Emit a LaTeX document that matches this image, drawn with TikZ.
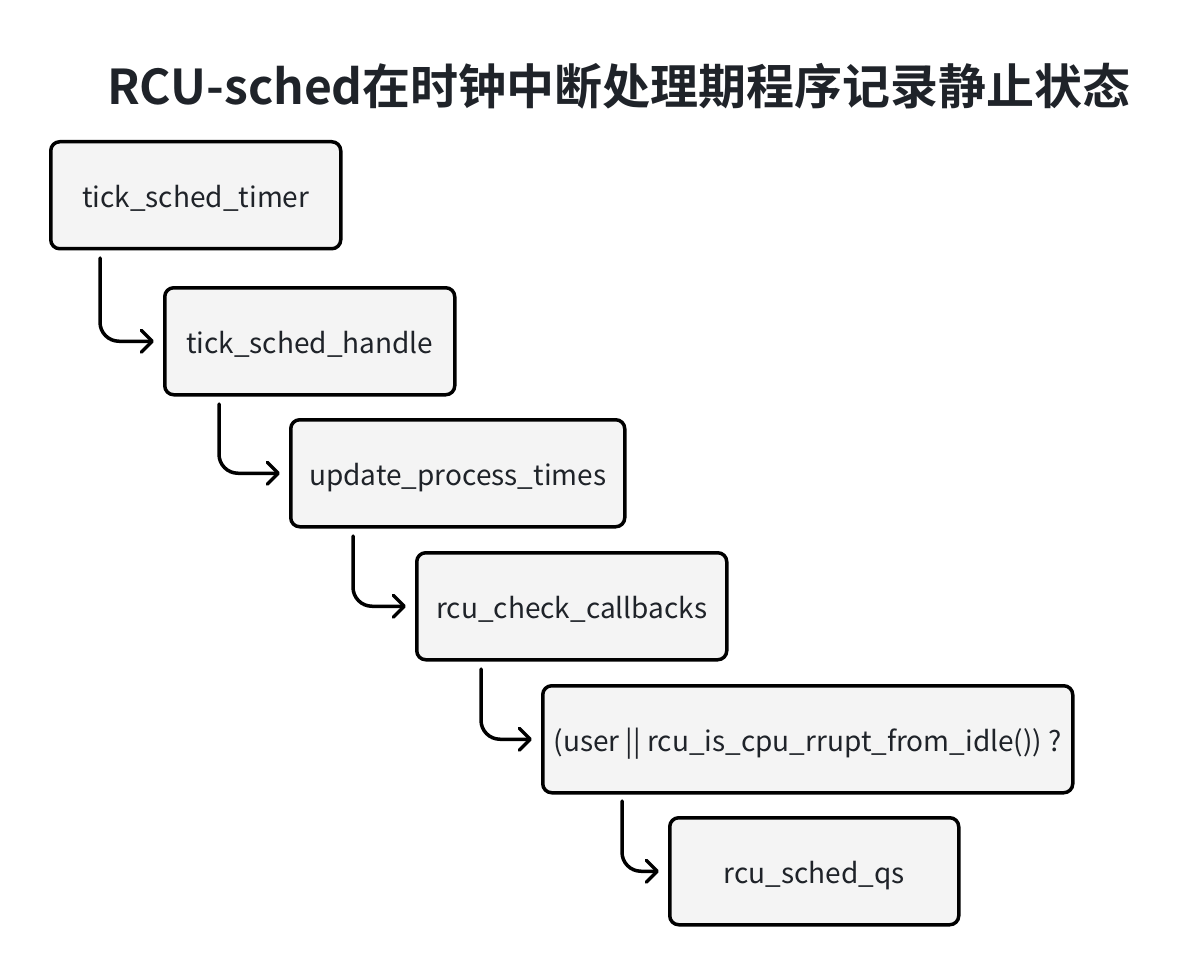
\documentclass[tikz,border=0pt]{standalone}
\usepackage{fontspec}
\setmainfont{Noto Sans CJK SC}[BoldFont={Noto Sans CJK SC Bold}]
\usetikzlibrary{arrows.meta}
\definecolor{boxfill}{HTML}{F4F4F4}
\definecolor{txt}{HTML}{1F2329}
\tikzset{
  fbox/.style={draw=black, line width=3.5pt, fill=boxfill, rounded corners=9pt,
    minimum height=107pt, inner sep=0pt, text height=27pt, text depth=1.6pt,
    text=txt, font=\fontsize{28}{32}\selectfont, anchor=north west},
  conn/.style={line width=3.5pt, rounded corners=19pt, line cap=round,
    -{Straight Barb[length=11pt,width=22pt,line width=3.5pt,round]}}
}
\begin{document}
\begin{tikzpicture}[x=1pt,y=-1pt]
\useasboundingbox (0,0) rectangle (1180,976);
\node[font=\bfseries\fontsize{48}{52}\selectfont, text=txt] (title) at (619,86) {RCU-sched在时钟中断处理期程序记录静止状态};
\node[fbox, minimum width=290pt] (b1) at (49,140) {tick\_sched\_timer};
\node[fbox, minimum width=290pt] (b2) at (163,286) {tick\_sched\_handle};
\node[fbox, minimum width=334pt] (b3) at (289,418) {update\_process\_times};
\node[fbox, minimum width=310pt] (b4) at (415,551) {rcu\_check\_callbacks};
\node[fbox, minimum width=530pt] (b5) at (541,684) {(user || rcu\_is\_cpu\_rrupt\_from\_idle()) ?};
\node[fbox, minimum width=289pt] (b6) at (668,816) {rcu\_sched\_qs};
\coordinate (s1) at (100,258);
\coordinate (s2) at (219,404);
\coordinate (s3) at (353,536);
\coordinate (s4) at (481,669);
\coordinate (s5) at (622,801);
\draw[conn] (s1) |- ([xshift=-9pt]b2.west);
\draw[conn] (s2) |- ([xshift=-9pt]b3.west);
\draw[conn] (s3) |- ([xshift=-9pt]b4.west);
\draw[conn] (s4) |- ([xshift=-9pt]b5.west);
\draw[conn] (s5) |- ([xshift=-9pt]b6.west);
\end{tikzpicture}
\end{document}
